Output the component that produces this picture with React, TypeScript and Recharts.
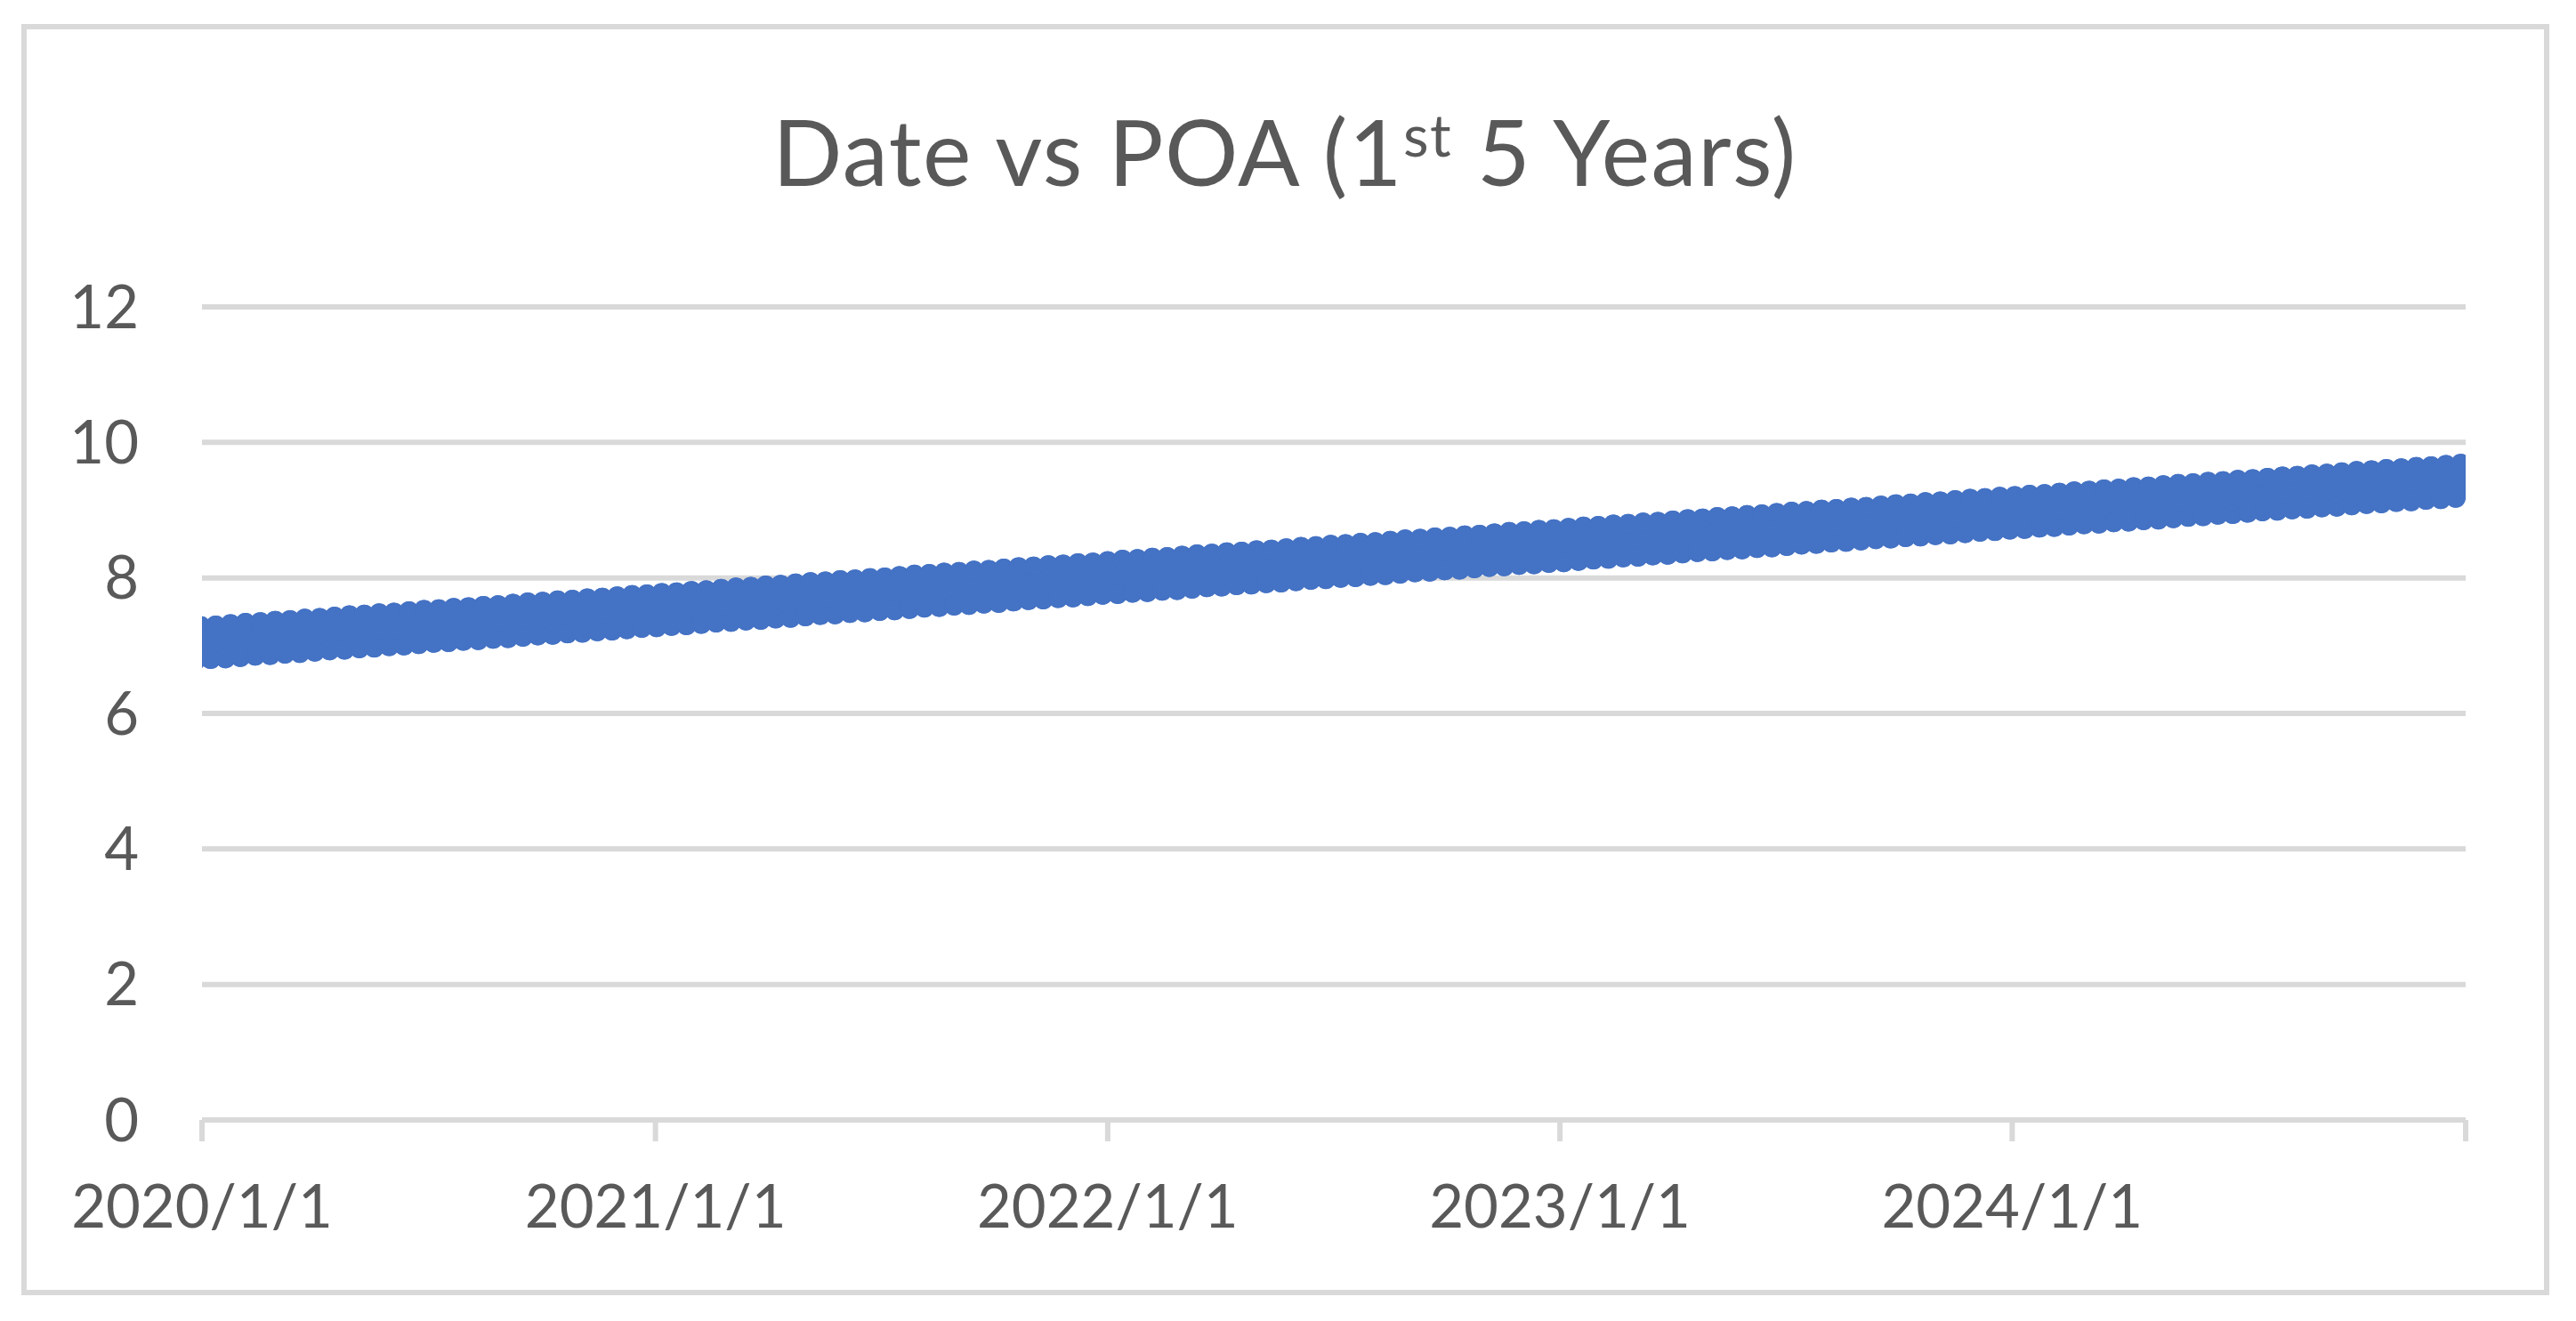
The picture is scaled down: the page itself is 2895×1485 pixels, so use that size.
import { LineChart, Line, XAxis, YAxis, CartesianGrid } from 'recharts';

// x = days since 2020/1/1, POA (lower / upper swings)
const lowDays = [
  -5, 7, 19, 31, 43, 55, 67, 79, 91, 103, 115, 127, 139, 151, 163, 175, 187, 199, 211, 223,
  235, 247, 259, 271, 283, 295, 307, 319, 331, 343, 355, 367, 379, 391, 403, 415, 427, 439, 451, 463,
  475, 487, 499, 511, 523, 535, 547, 559, 571, 583, 595, 607, 619, 631, 643, 655, 667, 679, 691, 703,
  715, 727, 739, 751, 763, 775, 787, 799, 811, 823, 835, 847, 859, 871, 883, 895, 907, 919, 931, 943,
  955, 967, 979, 991, 1003, 1015, 1027, 1039, 1051, 1063, 1075, 1087, 1099, 1111, 1123, 1135, 1147, 1159, 1171, 1183,
  1195, 1207, 1219, 1231, 1243, 1255, 1267, 1279, 1291, 1303, 1315, 1327, 1339, 1351, 1363, 1375, 1387, 1399, 1411, 1423,
  1435, 1447, 1459, 1471, 1483, 1495, 1507, 1519, 1531, 1543, 1555, 1567, 1579, 1591, 1603, 1615, 1627, 1639, 1651, 1663,
  1675, 1687, 1699, 1711, 1723, 1735, 1747, 1759, 1771, 1783, 1795, 1807, 1819,
];

const lowPoa = [
  6.78, 6.80, 6.81, 6.83, 6.85, 6.86, 6.88, 6.89, 6.91, 6.93, 6.94, 6.96, 6.97, 6.99, 7.00, 7.02, 7.04, 7.05, 7.07, 7.08,
  7.10, 7.11, 7.13, 7.15, 7.16, 7.18, 7.19, 7.21, 7.22, 7.24, 7.26, 7.27, 7.29, 7.30, 7.32, 7.34, 7.35, 7.37, 7.38, 7.40,
  7.41, 7.43, 7.45, 7.46, 7.48, 7.49, 7.51, 7.52, 7.54, 7.56, 7.57, 7.59, 7.60, 7.62, 7.63, 7.65, 7.67, 7.68, 7.70, 7.71,
  7.73, 7.75, 7.76, 7.78, 7.79, 7.81, 7.82, 7.84, 7.86, 7.87, 7.89, 7.90, 7.92, 7.93, 7.95, 7.97, 7.98, 8.00, 8.01, 8.03,
  8.04, 8.06, 8.08, 8.09, 8.11, 8.12, 8.14, 8.16, 8.17, 8.19, 8.20, 8.22, 8.23, 8.25, 8.27, 8.28, 8.30, 8.31, 8.33, 8.34,
  8.36, 8.38, 8.39, 8.41, 8.42, 8.44, 8.45, 8.47, 8.49, 8.50, 8.52, 8.53, 8.55, 8.57, 8.58, 8.60, 8.61, 8.63, 8.64, 8.66,
  8.68, 8.69, 8.71, 8.72, 8.74, 8.75, 8.77, 8.79, 8.80, 8.82, 8.83, 8.85, 8.86, 8.88, 8.90, 8.91, 8.93, 8.94, 8.96, 8.98,
  8.99, 9.01, 9.02, 9.04, 9.05, 9.07, 9.09, 9.10, 9.12, 9.13, 9.15, 9.16, 9.18,
];

const highDays = [
  -1, 11, 23, 35, 47, 59, 71, 83, 95, 107, 119, 131, 143, 155, 167, 179, 191, 203, 215, 227,
  239, 251, 263, 275, 287, 299, 311, 323, 335, 347, 359, 371, 383, 395, 407, 419, 431, 443, 455, 467,
  479, 491, 503, 515, 527, 539, 551, 563, 575, 587, 599, 611, 623, 635, 647, 659, 671, 683, 695, 707,
  719, 731, 743, 755, 767, 779, 791, 803, 815, 827, 839, 851, 863, 875, 887, 899, 911, 923, 935, 947,
  959, 971, 983, 995, 1007, 1019, 1031, 1043, 1055, 1067, 1079, 1091, 1103, 1115, 1127, 1139, 1151, 1163, 1175, 1187,
  1199, 1211, 1223, 1235, 1247, 1259, 1271, 1283, 1295, 1307, 1319, 1331, 1343, 1355, 1367, 1379, 1391, 1403, 1415, 1427,
  1439, 1451, 1463, 1475, 1487, 1499, 1511, 1523, 1535, 1547, 1559, 1571, 1583, 1595, 1607, 1619, 1631, 1643, 1655, 1667,
  1679, 1691, 1703, 1715, 1727, 1739, 1751, 1763, 1775, 1787, 1799, 1811, 1823,
];

const highPoa = [
  7.29, 7.30, 7.32, 7.34, 7.35, 7.37, 7.38, 7.40, 7.41, 7.43, 7.45, 7.46, 7.48, 7.49, 7.51, 7.53, 7.54, 7.56, 7.57, 7.59,
  7.60, 7.62, 7.64, 7.65, 7.67, 7.68, 7.70, 7.71, 7.73, 7.75, 7.76, 7.78, 7.79, 7.81, 7.82, 7.84, 7.86, 7.87, 7.89, 7.90,
  7.92, 7.94, 7.95, 7.97, 7.98, 8.00, 8.01, 8.03, 8.05, 8.06, 8.08, 8.09, 8.11, 8.12, 8.14, 8.16, 8.17, 8.19, 8.20, 8.22,
  8.23, 8.25, 8.27, 8.28, 8.30, 8.31, 8.33, 8.35, 8.36, 8.38, 8.39, 8.41, 8.42, 8.44, 8.46, 8.47, 8.49, 8.50, 8.52, 8.53,
  8.55, 8.57, 8.58, 8.60, 8.61, 8.63, 8.64, 8.66, 8.68, 8.69, 8.71, 8.72, 8.74, 8.76, 8.77, 8.79, 8.80, 8.82, 8.83, 8.85,
  8.87, 8.88, 8.90, 8.91, 8.93, 8.94, 8.96, 8.98, 8.99, 9.01, 9.02, 9.04, 9.05, 9.07, 9.09, 9.10, 9.12, 9.13, 9.15, 9.17,
  9.18, 9.20, 9.21, 9.23, 9.24, 9.26, 9.28, 9.29, 9.31, 9.32, 9.34, 9.35, 9.37, 9.39, 9.40, 9.42, 9.43, 9.45, 9.46, 9.48,
  9.50, 9.51, 9.53, 9.54, 9.56, 9.58, 9.59, 9.61, 9.62, 9.64, 9.65, 9.67, 9.69,
];

const xTicks = [0, 366, 731, 1096, 1461, 1827];
const xTickLabels = ['2020/1/1', '2021/1/1', '2022/1/1', '2023/1/1', '2024/1/1', ''];
const yTicks = [0, 2, 4, 6, 8, 10, 12];

const W = 2895;
const H = 1485;
const gray = '#d9d9d9';
const text = '#595959';
const blue = '#4472C4';

export default function App() {
  // zigzag low -> high -> low ... so the thick line fills the band between markers
  const data: { day: number; poa: number }[] = [];
  for (let i = 0; i < lowDays.length; i++) {
    data.push({ day: lowDays[i], poa: lowPoa[i] });
    data.push({ day: highDays[i], poa: highPoa[i] });
  }

  return (
    <div style={{ position: 'absolute', left: 0, top: 0, width: W, height: H, background: '#fff' }}>
      <div
        style={{
          position: 'absolute',
          left: 24,
          top: 27,
          width: 2841,
          height: 1429,
          border: `6px solid ${gray}`,
          boxSizing: 'border-box',
        }}
      />
      <svg width={W} height={H} style={{ position: 'absolute', left: 0, top: 0 }}>
        <text
          x={1444}
          y={209}
          textAnchor="middle"
          fontFamily="Lato"
          fontSize={103}
          letterSpacing={1.5}
          fill={text}
        >
          Date vs POA (1
          <tspan fontSize={66} dy={-33}>st</tspan>
          <tspan dy={33}> 5 Years)</tspan>
        </text>
      </svg>
      <LineChart
        width={W}
        height={H}
        data={data}
        margin={{ top: 345, right: 124, bottom: 166, left: 127 }}
        style={{ position: 'absolute', left: 0, top: 0 }}
      >
        <CartesianGrid vertical={false} stroke={gray} strokeWidth={6} />
        <XAxis
          type="number"
          dataKey="day"
          domain={[0, 1827]}
          allowDataOverflow
          ticks={xTicks}
          interval={0}
          tickFormatter={(v: number) => xTickLabels[xTicks.indexOf(v)] ?? ''}
          height={60}
          axisLine={{ stroke: gray, strokeWidth: 6 }}
          tickLine={{ stroke: gray, strokeWidth: 6 }}
          tickSize={24}
          tickMargin={49}
          tick={{ fill: text, fontSize: 67, fontFamily: 'Lato' }}
        />
        <YAxis
          type="number"
          domain={[0, 12]}
          ticks={yTicks}
          interval={0}
          width={100}
          axisLine={false}
          tickLine={false}
          tickSize={0}
          tickMargin={71}
          tick={{ fill: text, fontSize: 67, fontFamily: 'Lato' }}
        />
        <Line
          dataKey="poa"
          type="linear"
          stroke={blue}
          strokeWidth={22}
          strokeLinejoin="round"
          dot={{ r: 11, fill: blue, stroke: 'none' }}
          isAnimationActive={false}
        />
      </LineChart>
    </div>
  );
}
